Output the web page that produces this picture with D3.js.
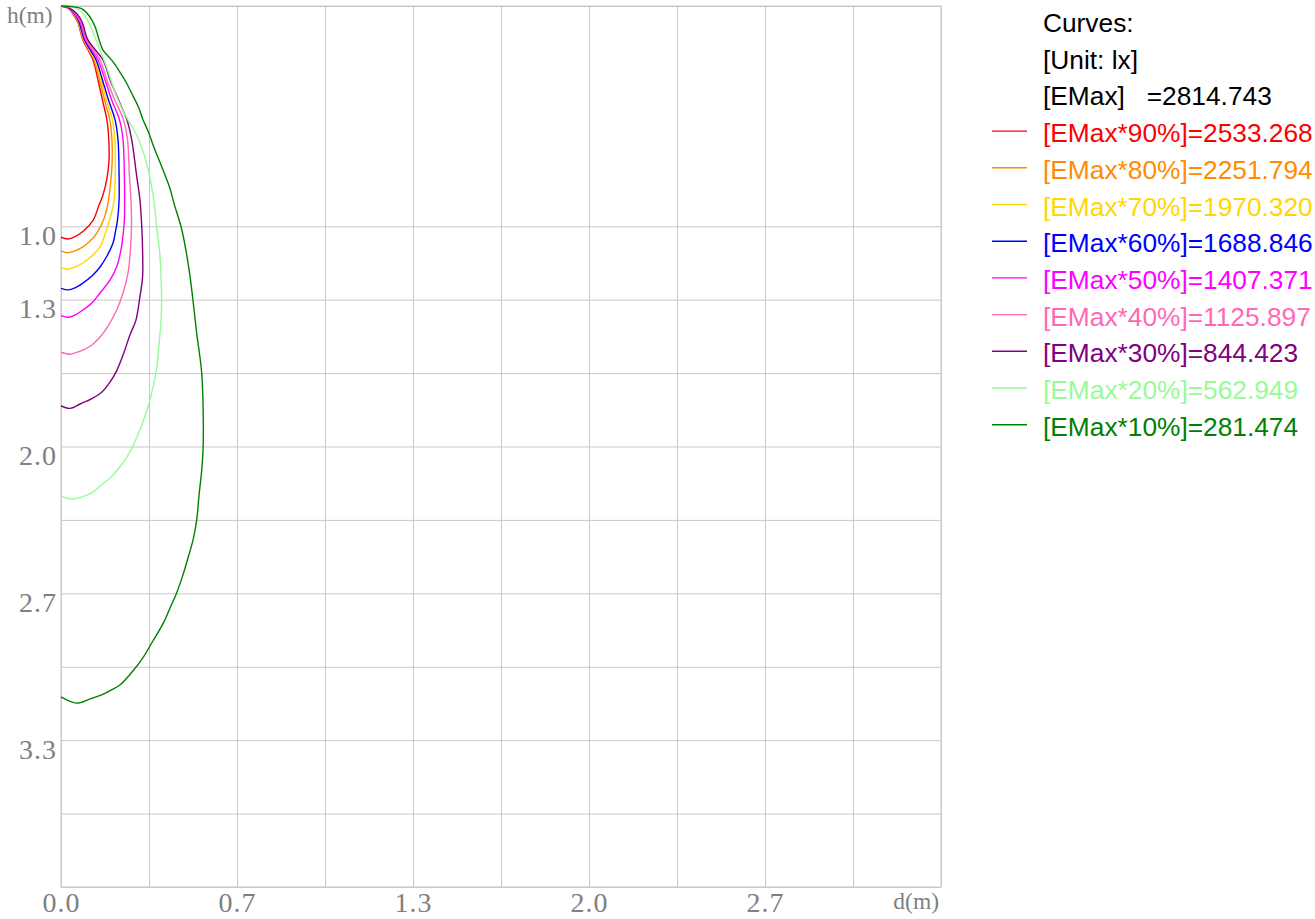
<!DOCTYPE html>
<html>
<head>
<meta charset="utf-8">
<script src="https://cdn.jsdelivr.net/npm/d3@7"></script>
<style>
  body { margin: 0; background: #fff; }
  svg { display: block; }
</style>
</head>
<body>
<script>
var w = 1315;
var h = 919;

// isolux curves, [d (m), h (m)]
var curve90 = [[0,0],[0.027,0.009],[0.045,0.036],[0.063,0.073],[0.083,0.154],[0.121,0.245],[0.140,0.336],[0.157,0.427],[0.174,0.518],[0.181,0.608],[0.182,0.699],[0.173,0.790],[0.159,0.858],[0.144,0.904],[0.122,0.972],[0.083,1.024],[0.053,1.047],[0.027,1.058],[0,1.050]];
var curve80 = [[0,0],[0.027,0.009],[0.047,0.036],[0.064,0.073],[0.085,0.154],[0.125,0.245],[0.146,0.336],[0.165,0.427],[0.185,0.518],[0.193,0.608],[0.194,0.699],[0.189,0.790],[0.180,0.881],[0.165,0.958],[0.136,1.031],[0.106,1.072],[0.083,1.094],[0.053,1.112],[0.023,1.120],[0,1.112]];
var curve70 = [[0,0],[0.027,0.009],[0.049,0.036],[0.066,0.073],[0.087,0.154],[0.129,0.245],[0.152,0.336],[0.172,0.427],[0.195,0.518],[0.204,0.608],[0.206,0.699],[0.205,0.790],[0.201,0.881],[0.189,0.949],[0.172,1.017],[0.148,1.094],[0.117,1.135],[0.083,1.167],[0.053,1.185],[0.023,1.195],[0,1.188]];
var curve60 = [[0,0],[0.027,0.009],[0.051,0.036],[0.068,0.073],[0.089,0.154],[0.133,0.245],[0.157,0.336],[0.180,0.427],[0.205,0.518],[0.216,0.608],[0.220,0.767],[0.220,0.881],[0.214,0.972],[0.206,1.026],[0.197,1.076],[0.174,1.135],[0.148,1.185],[0.117,1.226],[0.083,1.258],[0.053,1.280],[0.027,1.289],[0,1.282]];
var curve50 = [[0,0],[0.027,0.009],[0.053,0.036],[0.072,0.073],[0.093,0.154],[0.140,0.245],[0.167,0.336],[0.192,0.427],[0.222,0.518],[0.235,0.608],[0.240,0.767],[0.241,0.881],[0.240,0.972],[0.236,1.031],[0.227,1.108],[0.211,1.184],[0.186,1.244],[0.148,1.303],[0.117,1.348],[0.083,1.380],[0.053,1.403],[0.027,1.413],[0,1.406]];
var curve40 = [[0,0],[0.030,0.009],[0.057,0.036],[0.076,0.073],[0.097,0.154],[0.148,0.245],[0.174,0.336],[0.204,0.427],[0.237,0.518],[0.252,0.608],[0.259,0.767],[0.265,0.881],[0.267,0.994],[0.263,1.108],[0.254,1.212],[0.235,1.303],[0.211,1.380],[0.178,1.453],[0.148,1.503],[0.117,1.539],[0.083,1.562],[0.053,1.575],[0.034,1.581],[0,1.572]];
var curve30 = [[0,0],[0.030,0.009],[0.061,0.036],[0.080,0.073],[0.102,0.154],[0.159,0.245],[0.186,0.336],[0.218,0.427],[0.250,0.518],[0.268,0.608],[0.286,0.767],[0.299,0.881],[0.306,1.003],[0.309,1.108],[0.309,1.230],[0.297,1.335],[0.284,1.426],[0.261,1.494],[0.239,1.571],[0.212,1.653],[0.186,1.707],[0.155,1.753],[0.121,1.780],[0.072,1.807],[0.034,1.827],[0,1.815]];
var curve20 = [[0,0],[0.042,0.005],[0.068,0.018],[0.091,0.045],[0.110,0.086],[0.125,0.132],[0.140,0.177],[0.155,0.222],[0.170,0.268],[0.189,0.336],[0.216,0.427],[0.254,0.518],[0.277,0.563],[0.309,0.654],[0.326,0.722],[0.341,0.804],[0.354,0.904],[0.362,1.003],[0.373,1.108],[0.379,1.230],[0.381,1.335],[0.379,1.426],[0.371,1.539],[0.363,1.639],[0.337,1.789],[0.303,1.911],[0.261,2.025],[0.223,2.093],[0.186,2.143],[0.148,2.179],[0.121,2.207],[0.080,2.229],[0.042,2.238],[0,2.225]];
var curve10 = [[0,0],[0.042,0.003],[0.076,0.011],[0.098,0.032],[0.117,0.064],[0.131,0.100],[0.140,0.136],[0.148,0.168],[0.159,0.200],[0.178,0.227],[0.201,0.259],[0.223,0.300],[0.246,0.345],[0.273,0.409],[0.295,0.463],[0.311,0.518],[0.328,0.563],[0.356,0.654],[0.379,0.722],[0.411,0.822],[0.430,0.904],[0.456,1.008],[0.473,1.108],[0.489,1.230],[0.502,1.358],[0.514,1.485],[0.533,1.666],[0.539,1.880],[0.538,2.016],[0.533,2.107],[0.523,2.220],[0.514,2.334],[0.500,2.425],[0.482,2.502],[0.462,2.583],[0.438,2.665],[0.413,2.733],[0.388,2.801],[0.348,2.883],[0.312,2.956],[0.269,3.024],[0.223,3.083],[0.189,3.106],[0.160,3.124],[0.110,3.146],[0.059,3.165],[0,3.137]];

var curves = [curve90, curve80, curve70, curve60, curve50, curve40, curve30, curve20, curve10];
var percents = [90, 80, 70, 60, 50, 40, 30, 20, 10];
var luxValues = ["2533.268", "2251.794", "1970.320", "1688.846", "1407.371", "1125.897", "844.423", "562.949", "281.474"];
var colors = ["#ff0000", "#ff8c00", "#ffd700", "#0000ff", "#ff00ff", "#ff69b4", "#800080", "#98fb98", "#008000"];
var headerLines = ["Curves:", "[Unit: lx]", "[EMax]   =2814.743"];

// grid, one line per third of a metre
var xGrid = [0, 1/3, 2/3, 1, 4/3, 5/3, 2, 7/3, 8/3, 3, 10/3];
var yGrid = [0, 1, 4/3, 5/3, 2, 7/3, 8/3, 3, 10/3, 11/3, 4];
var xTickLabels = {0: "0.0", 2: "0.7", 4: "1.3", 6: "2.0", 8: "2.7"};
var yTickLabels = {3: "1.0", 4: "1.3", 6: "2.0", 8: "2.7", 10: "3.3"};

var plotL = 61, plotR = 941, plotT = 6, plotB = 887;

var xScale = d3.scaleLinear().domain([0, 10/3]).range([plotL, plotR]);
var yScale = d3.scaleLinear().domain([0, 4]).range([plotT, plotB]);

var svg = d3.select("body").append("svg")
  .attr("width", w)
  .attr("height", h);

var gridColor = "#c8c8c8";
var labelColor = "#808080";

//vertical grid + x labels
var xAxis = d3.axisBottom(xScale)
  .tickValues(xGrid)
  .tickSize(-(plotB - plotT))
  .tickPadding(5)
  .tickFormat(function(d, i) { return xTickLabels[i] || ""; });

var gx = svg.append("g")
  .attr("transform", "translate(0," + plotB + ")")
  .call(xAxis);
gx.select(".domain").remove();
gx.selectAll("line").attr("stroke", gridColor);
gx.selectAll("text")
  .attr("fill", labelColor)
  .attr("font-family", "Liberation Serif")
  .attr("font-size", 28)
  .attr("letter-spacing", 1);

//horizontal grid + y labels (label sits just under its line)
var yAxis = d3.axisLeft(yScale)
  .tickValues(yGrid)
  .tickSize(-(plotR - plotL))
  .tickFormat(function(d) {
    var k = Math.round(d * 3);
    return yTickLabels[k] || "";
  });

var gy = svg.append("g")
  .attr("transform", "translate(" + plotL + ",0)")
  .call(yAxis);
gy.select(".domain").remove();
gy.selectAll("line").attr("stroke", gridColor);
gy.selectAll("text")
  .attr("x", -4)
  .attr("dy", 18)
  .attr("fill", labelColor)
  .attr("font-family", "Liberation Serif")
  .attr("font-size", 28)
  .attr("letter-spacing", 1);

//frame
svg.append("rect")
  .attr("x", plotL)
  .attr("y", plotT)
  .attr("width", plotR - plotL)
  .attr("height", plotB - plotT)
  .attr("fill", "none")
  .attr("stroke", gridColor);

svg.append("text")
  .attr("x", 7)
  .attr("y", 23)
  .text("h(m)")
  .attr("font-family", "Liberation Serif")
  .attr("font-size", 23.5)
  .attr("fill", labelColor);

svg.append("text")
  .attr("x", 939)
  .attr("y", 909)
  .attr("text-anchor", "end")
  .text("d(m)")
  .attr("font-family", "Liberation Serif")
  .attr("font-size", 23.5)
  .attr("fill", labelColor);

//curves
var line = d3.line()
  .curve(d3.curveCatmullRom.alpha(0.5))
  .x(function(d) { return xScale(d[0]); })
  .y(function(d) { return yScale(d[1]); });

svg.selectAll(".curve")
  .data(curves)
  .enter()
  .append("path")
  .attr("class", "curve")
  .attr("d", line)
  .attr("fill", "none")
  .attr("stroke", function(d, i) { return colors[i]; })
  .attr("stroke-width", 1.4);

//legend
var legendX = 1043;
var rowH = 36.7;
var firstBase = 32;

svg.selectAll(".head")
  .data(headerLines)
  .enter()
  .append("text")
  .attr("class", "head")
  .attr("x", legendX)
  .attr("y", function(d, i) { return firstBase + i * rowH; })
  .attr("xml:space", "preserve")
  .style("white-space", "pre")
  .text(function(d) { return d; })
  .attr("font-family", "Liberation Sans")
  .attr("font-size", 26.3)
  .attr("fill", "#000");

var items = svg.selectAll(".item")
  .data(percents)
  .enter()
  .append("g")
  .attr("class", "item")
  .attr("transform", function(d, i) {
    return "translate(0," + (firstBase + (i + 3) * rowH) + ")";
  });

items.append("line")
  .attr("x1", 992)
  .attr("x2", 1027)
  .attr("y1", -11)
  .attr("y2", -11)
  .attr("stroke", function(d, i) { return colors[i]; })
  .attr("stroke-width", 1.4);

items.append("text")
  .attr("x", legendX)
  .text(function(d, i) { return "[EMax*" + d + "%]=" + luxValues[i]; })
  .attr("font-family", "Liberation Sans")
  .attr("font-size", 26.3)
  .attr("fill", function(d, i) { return colors[i]; });
</script>
</body>
</html>
